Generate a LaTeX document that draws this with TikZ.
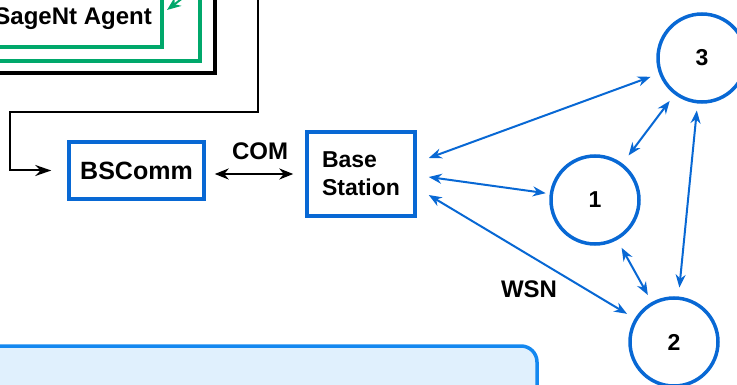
\documentclass[tikz,border=0pt]{standalone}
\usepackage{fontspec}
\setmainfont{Liberation Sans}
\usetikzlibrary{arrows.meta}
\definecolor{nodeblue}{RGB}{8,104,212}
\definecolor{agentgreen}{RGB}{0,168,107}
\definecolor{panelblue}{RGB}{20,136,240}
\definecolor{panelfill}{RGB}{224,240,253}
\begin{document}
\begin{tikzpicture}[x=1pt,y=-1pt,
  lbl/.style={font=\fontsize{24}{28}\selectfont\bfseries},
  bluebox/.style={rectangle,draw=nodeblue,line width=3.5pt,inner sep=0pt,font=\fontsize{23}{28}\selectfont\bfseries},
  wsnode/.style={circle,draw=nodeblue,line width=3.5pt,minimum size=88pt,inner sep=0pt,font=\fontsize{23}{28}\selectfont\bfseries},
  wlink/.style={draw=nodeblue,line width=2pt,{Stealth[length=13pt,width=10pt]}-{Stealth[length=13pt,width=10pt]}},
  blkline/.style={draw=black,line width=2pt},
  frame/.style={line width=3.5pt},
]
\useasboundingbox (0,0) rectangle (737,385);
\clip (0,0) rectangle (737,385);

% agent frames (cut off by the picture edge)
\draw[frame,black] (-30,-30) rectangle (215,73);
\draw[frame,agentgreen] (-30,-30) rectangle (200,61);
\draw[frame,agentgreen] (-30,-30) rectangle (162,47);
\node[lbl,anchor=base east,inner sep=0pt] (agent) at (152,25) {SageNt Agent};
\coordinate (gsrc) at (188,-6);
\coordinate (gtip) at (167,10);
\draw[agentgreen,line width=2pt,-{Stealth[length=14pt,width=11pt]}] (gsrc) -- (gtip);

% bottom panel
\draw[draw=panelblue,fill=panelfill,line width=3.5pt,rounded corners=16pt] (-30,346) rectangle (537,420);

% nodes
\node[bluebox,minimum width=135pt,minimum height=57pt,font=\fontsize{25}{28}\selectfont\bfseries] (bscomm) at (136.5,170.5) {BSComm};
\node[bluebox,minimum width=108pt,minimum height=84pt,align=left] (bs) at (361,174) {Base\\Station};
\node[wsnode] (n3) at (702,58) {3};
\node[wsnode] (n1) at (595,200) {1};
\node[wsnode] (n2) at (674,342) {2};

\node[lbl] (com) at (260,151) {COM};
\node[lbl] (wsn) at (529,289) {WSN};

% black connector from agent to BSComm
\coordinate (agentout) at (258,-10);
\draw[blkline,-{Stealth[length=16pt,width=11pt]},shorten >=16pt] (agentout) |- (10,112) |- (bscomm.west);

% COM link
\draw[blkline,{Stealth[length=14pt,width=11pt]}-{Stealth[length=14pt,width=11pt]},shorten <=9pt,shorten >=12pt] (bscomm.east |- bs.west) -- (bs.west);

% WSN links
\draw[wlink,shorten >=9pt] ([shift={(12pt,16pt)}]bs.east) -- (n3);
\draw[wlink,shorten >=4pt] ([shift={(12pt,-3pt)}]bs.east) -- (n1);
\draw[wlink,shorten >=9pt] ([shift={(12pt,-21pt)}]bs.east) -- (n2);
\draw[wlink,shorten <=10pt,shorten >=8pt] (n1) -- (n3);
\draw[wlink,shorten <=9pt,shorten >=8pt] (n1) -- (n2);
\draw[wlink,shorten <=7pt,shorten >=9pt] (n3) -- (n2);
\end{tikzpicture}
\end{document}
